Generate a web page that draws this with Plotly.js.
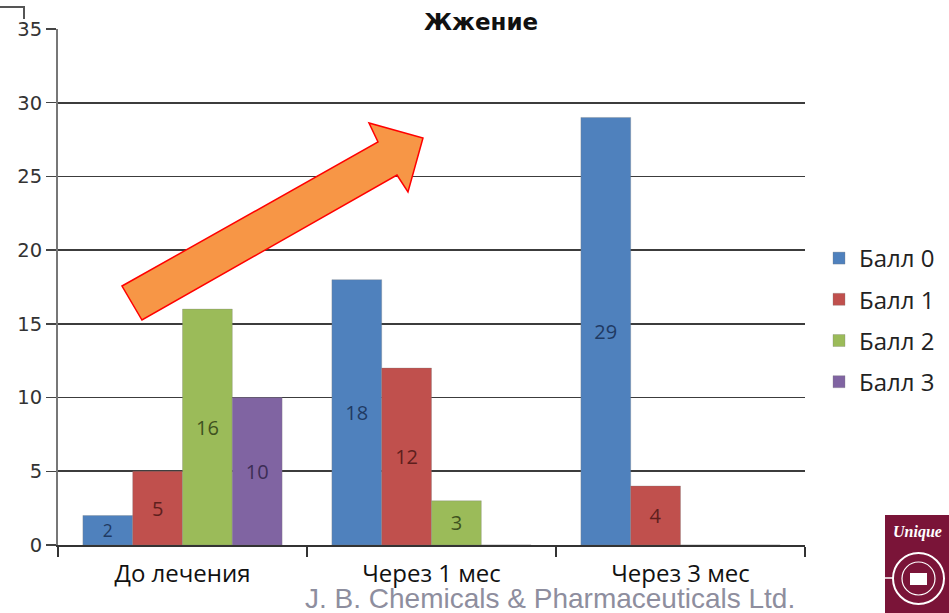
<!DOCTYPE html>
<html>
<head>
<meta charset="utf-8">
<script src="https://cdn.plot.ly/plotly-3.0.1.min.js"></script>
<style>html,body{margin:0;padding:0;background:#fff;}#chart{width:949px;height:613px;}</style>
</head>
<body>
<div id="chart"></div>
<script>
// ---- data ----
var categories = ['До лечения', 'Через 1 мес', 'Через 3 мес'];
var seriesNames = ['Балл 0', 'Балл 1', 'Балл 2', 'Балл 3'];
var ball0 = [2, 18, 29];
var ball1 = [5, 12, 4];
var ball2 = [16, 3, 0];
var ball3 = [10, 0, 0];
var yTicks = [0, 5, 10, 15, 20, 25, 30, 35];

// ---- style ----
var colors = ['#4F81BD', '#C0504D', '#9BBB59', '#8064A2'];
var textColors = ['#1F3A63', '#5E1F1D', '#3F5220', '#3C2D55'];
var W = 949, H = 613;
var M = {l: 58, r: 144, t: 29, b: 68, autoexpand: false};
var PW = W - M.l - M.r, PH = H - M.t - M.b;
function px(x) { return (x - M.l) / PW; }
function py(y) { return (H - M.b - y) / PH; }

var allSeries = [ball0, ball1, ball2, ball3];
var traces = allSeries.map(function (vals, i) {
  return {
    type: 'bar',
    name: seriesNames[i],
    x: categories,
    y: vals,
    text: vals.map(function (v) { return v ? String(v) : ''; }),
    textposition: 'inside',
    insidetextanchor: 'middle',
    textangle: 0,
    textfont: {family: 'Open Sans, Lato, sans-serif', size: 20, color: textColors[i]},
    marker: {color: colors[i], line: {width: 0.6, color: 'rgba(120,120,120,0.5)'}},
    legendgroup: 'g' + i,
    hoverinfo: 'x+y+name',
    cliponaxis: false
  };
});

// decorative arrow (pixel vertices -> paper)
var arrowPx = [[122, 286], [378, 142], [369, 123], [423, 138], [408, 192], [397, 175], [142, 320]];
var arrowPath = arrowPx.map(function (p, i) {
  return (i ? 'L' : 'M') + px(p[0]).toFixed(4) + ',' + py(p[1]).toFixed(4);
}).join(' ') + ' Z';

var cornerPath = 'M' + px(0) + ',' + py(7) + ' L' + px(24) + ',' + py(7) + ' L' + px(24) + ',' + py(19);

var shapes = [
  {type: 'path', xref: 'paper', yref: 'paper', path: cornerPath, line: {color: '#555', width: 2}},
  {type: 'path', xref: 'paper', yref: 'paper', path: arrowPath, fillcolor: '#F79646', line: {color: '#FF0000', width: 1.5}, layer: 'above'},
  // logo
  {type: 'rect', xref: 'paper', yref: 'paper', x0: px(885), x1: px(952), y0: py(515), y1: py(615), fillcolor: '#7A1438', line: {width: 0}, layer: 'above'},
  {type: 'line', xref: 'paper', yref: 'paper', x0: px(876), x1: px(895), y0: py(578), y1: py(578), line: {color: '#ffffff', width: 1.5}, layer: 'above'},
  {type: 'circle', xref: 'paper', yref: 'paper', x0: px(893), x1: px(944), y0: py(553), y1: py(604), fillcolor: '#7A1438', line: {color: '#ffffff', width: 2}, layer: 'above'},
  {type: 'circle', xref: 'paper', yref: 'paper', x0: px(902), x1: px(935), y0: py(562), y1: py(595), fillcolor: '#7A1438', line: {color: '#ffffff', width: 1.2}, layer: 'above'},
  {type: 'rect', xref: 'paper', yref: 'paper', x0: px(910), x1: px(927), y0: py(573), y1: py(585), fillcolor: '#ffffff', line: {width: 0}, layer: 'above'}
];

var annotations = [
  {xref: 'paper', yref: 'paper', x: px(550), y: py(598), text: 'J. B. Chemicals &amp; Pharmaceuticals Ltd.', showarrow: false,
   font: {family: 'Liberation Sans, Arial, sans-serif', size: 28, color: '#8E8E9E'}, xanchor: 'center', yanchor: 'middle'},
  {xref: 'paper', yref: 'paper', x: px(917), y: py(532), text: '<i><b>Unique</b></i>', showarrow: false,
   font: {family: 'Liberation Serif, serif', size: 16, color: '#ffffff'}, xanchor: 'center', yanchor: 'middle'}
];

var layout = {
  width: W, height: H,
  margin: M,
  paper_bgcolor: '#ffffff', plot_bgcolor: '#ffffff',
  title: {text: '<b>Жжение</b>', font: {family: 'DejaVu Sans, Verdana, sans-serif', size: 23, color: '#111'},
          xref: 'paper', x: px(481), xanchor: 'center', yref: 'container', y: 1 - 22 / H, yanchor: 'middle'},
  barmode: 'group', bargap: 0.2, bargroupgap: 0,
  showlegend: true,
  legend: {x: px(819), xanchor: 'left', y: py(236), yanchor: 'top', traceorder: 'grouped', tracegroupgap: 7,
           font: {family: 'Open Sans, Lato, sans-serif', size: 24, color: '#222'}, itemwidth: 30, bgcolor: 'rgba(0,0,0,0)'},
  xaxis: {type: 'category', tickson: 'boundaries', ticks: 'outside', ticklen: 10, tickwidth: 1.5, tickcolor: '#333',
          showline: true, linecolor: '#333', linewidth: 1.5, showgrid: false, zeroline: false, ticklabelstandoff: 7,
          automargin: false,
          tickfont: {family: 'Open Sans, Lato, sans-serif', size: 24, color: '#111'}},
  yaxis: {range: [0, 35], tickvals: yTicks, ticks: 'outside', ticklen: 10, tickwidth: 1.5, tickcolor: '#444',
          showline: true, linecolor: '#777', linewidth: 2, showgrid: true, gridcolor: '#3c3c3c', gridwidth: 1.6,
          automargin: false,
          zeroline: false, tickfont: {family: 'DejaVu Sans, Verdana, sans-serif', size: 19.5, color: '#333'}},
  shapes: shapes,
  annotations: annotations
};

Plotly.newPlot('chart', traces, layout, {displayModeBar: false, staticPlot: true});
</script>
</body>
</html>
